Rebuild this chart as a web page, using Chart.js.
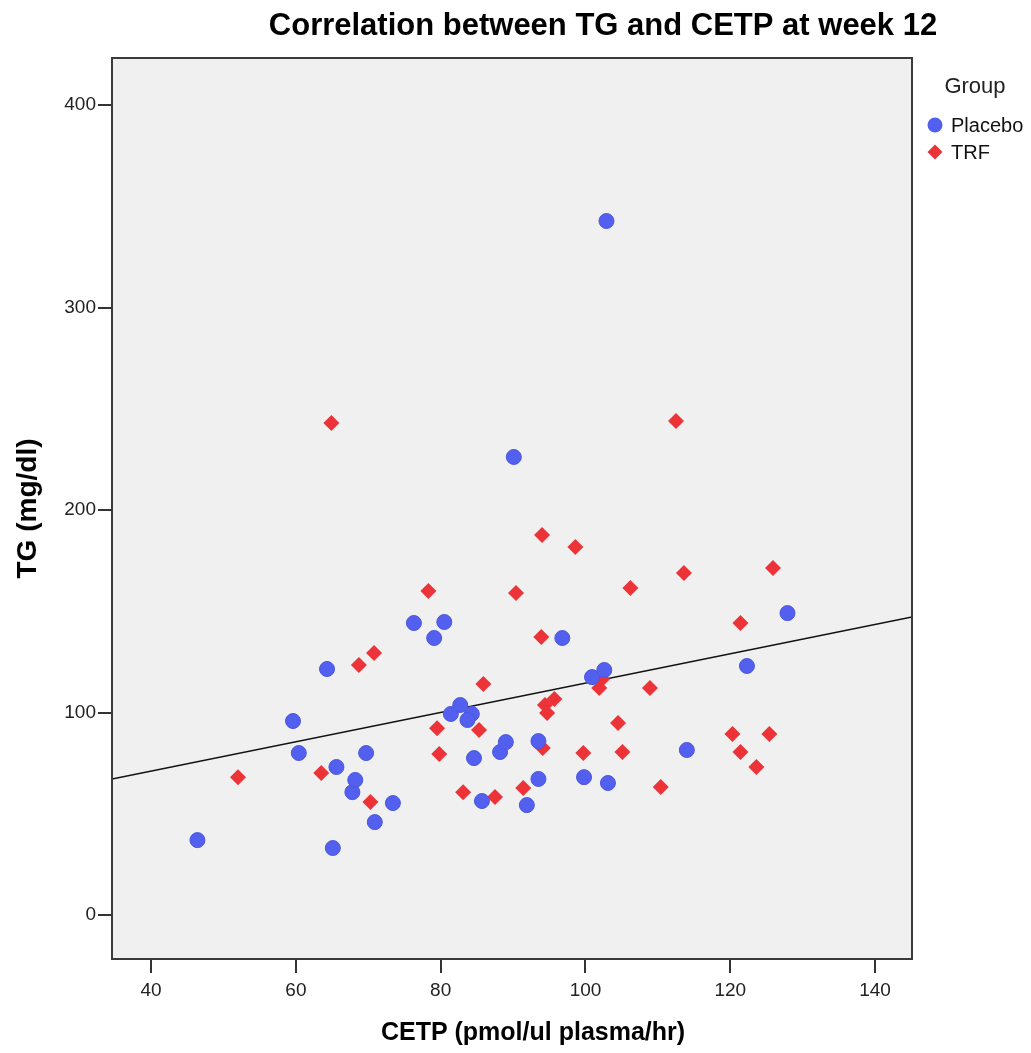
<!DOCTYPE html>
<html>
<head>
<meta charset="utf-8">
<title>Correlation between TG and CETP at week 12</title>
<script src="https://cdn.jsdelivr.net/npm/chart.js"></script>
<style>
    html, body { margin: 0; padding: 0; background: #fff; }
    #wrap { width: 1031px; height: 1053px; position: relative; }
</style>
</head>
<body>
<div id="wrap"><canvas id="scatter-chart"></canvas></div>
<script>
// Values
const chartTitle = 'Correlation between TG and CETP at week 12';
const xTitle = 'CETP (pmol/ul plasma/hr)';
const yTitle = 'TG (mg/dl)';
const legendTitle = 'Group';
const groupNames = ['Placebo', 'TRF'];

const xTicks = [40, 60, 80, 100, 120, 140];
const yTicks = [0, 100, 200, 300, 400];
const xRange = [34.6, 145.1];
const yRange = [-21.7, 423.2];

const placeboCETP = [46.4, 59.6, 60.4, 64.3, 65.1, 65.6, 67.8, 68.2, 69.7, 70.9, 73.4, 76.3,
    79.1, 80.5, 81.4, 82.7, 84.3, 83.7, 84.6, 85.7, 88.2, 89.0, 90.1, 91.9, 93.5, 93.5,
    96.8, 99.8, 100.9, 102.6, 102.9, 103.1, 114.0, 122.3, 127.9];
const placeboTG = [37.0, 95.8, 80.0, 121.5, 33.1, 73.1, 60.7, 66.7, 80.0, 45.9, 55.3, 144.2,
    136.8, 144.7, 99.3, 103.7, 99.3, 96.3, 77.5, 56.3, 80.5, 85.4, 226.2, 54.3, 85.9, 67.2,
    136.8, 68.1, 117.5, 121.0, 342.7, 65.2, 81.5, 123.0, 149.1];

const trfCETP = [52.0, 63.5, 64.9, 68.7, 70.3, 70.8, 78.3, 79.5, 79.8, 83.1, 85.3, 85.9,
    87.5, 90.4, 91.4, 94.0, 93.9, 94.1, 94.4, 94.7, 95.7, 98.6, 99.7, 102.3, 101.9, 104.5,
    105.1, 106.2, 108.9, 110.4, 112.5, 113.6, 120.3, 121.4, 121.4, 123.6, 125.4, 125.9];
const trfTG = [68.1, 70.1, 243.0, 123.5, 55.8, 129.4, 160.0, 92.3, 79.5, 60.7, 91.4, 114.1,
    58.3, 159.0, 62.7, 187.7, 137.3, 82.5, 103.7, 99.8, 106.7, 181.7, 80.0, 116.5, 112.1, 94.8,
    80.5, 161.5, 112.1, 63.2, 244.0, 168.9, 89.4, 144.2, 80.5, 73.1, 89.4, 171.4];

// Fit line for the whole sample, as drawn in the picture
const fitIntercept = 42.1;
const fitSlope = 0.724;

const BLUE = '#5360ef';
const RED = '#eb3338';
const FONT = "'Liberation Sans', Arial, sans-serif";

const toPoints = (xs, ys) => xs.map((x, i) => ({ x: x, y: ys[i] }));
const fitPoints = xRange.map(x => ({ x: x, y: fitIntercept + fitSlope * x }));

// Grey plot background, box frame, titles and legend
const framePlugin = {
    id: 'frame',
    beforeDatasetsDraw(chart) {
        const { ctx, chartArea: a } = chart;
        ctx.save();
        ctx.fillStyle = '#f0f0f0';
        ctx.fillRect(a.left, a.top, a.right - a.left, a.bottom - a.top);
        ctx.restore();
    },
    afterDraw(chart) {
        const { ctx, chartArea: a } = chart;
        ctx.save();
        ctx.strokeStyle = '#3a3a3a';
        ctx.lineWidth = 2;
        ctx.strokeRect(a.left, a.top, a.right - a.left, a.bottom - a.top);

        // chart title
        ctx.fillStyle = '#000';
        ctx.font = `bold 31px ${FONT}`;
        ctx.textAlign = 'center';
        ctx.textBaseline = 'middle';
        ctx.fillText(chartTitle, 603, 26);

        // x axis title (sits a bit right of the plot centre in the original)
        ctx.font = `bold 25px ${FONT}`;
        ctx.fillText(xTitle, 533, 1033);

        // legend
        ctx.fillStyle = '#222';
        ctx.font = `22px ${FONT}`;
        ctx.fillText(legendTitle, 975, 87);

        ctx.textAlign = 'left';
        ctx.font = `20px ${FONT}`;
        chart.data.datasets.slice(0, 2).forEach((ds, i) => {
            const cx = 935, cy = 125 + i * 27;
            ctx.fillStyle = ds.backgroundColor;
            ctx.beginPath();
            if (ds.pointStyle === 'circle') {
                ctx.arc(cx, cy, 7.5, 0, Math.PI * 2);
            } else {
                ctx.moveTo(cx - 7.5, cy);
                ctx.lineTo(cx, cy - 7.5);
                ctx.lineTo(cx + 7.5, cy);
                ctx.lineTo(cx, cy + 7.5);
                ctx.closePath();
            }
            ctx.fill();
            ctx.fillStyle = '#111';
            ctx.fillText(ds.label, 951, cy + 1);
        });
        ctx.restore();
    }
};

const ctx = document.getElementById('scatter-chart').getContext('2d');
new Chart(ctx, {
    type: 'scatter',
    data: {
        datasets: [{
            label: groupNames[0],
            data: toPoints(placeboCETP, placeboTG),
            pointStyle: 'circle',
            backgroundColor: BLUE,
            borderColor: '#4b57dc',
            borderWidth: 1,
            pointRadius: 7.5
        }, {
            label: groupNames[1],
            data: toPoints(trfCETP, trfTG),
            pointStyle: 'rectRot',
            backgroundColor: RED,
            borderColor: RED,
            borderWidth: 0,
            pointRadius: 8
        }, {
            type: 'line',
            label: 'Fit',
            data: fitPoints,
            borderColor: '#111',
            borderWidth: 1.5,
            pointRadius: 0,
            fill: false
        }]
    },
    options: {
        responsive: true,
        maintainAspectRatio: false,
        animation: false,
        layout: { padding: { top: 58, right: 119, left: 0, bottom: 0 } },
        plugins: {
            legend: { display: false },
            tooltip: { enabled: false }
        },
        scales: {
            x: {
                type: 'linear',
                min: xRange[0],
                max: xRange[1],
                afterBuildTicks: s => { s.ticks = xTicks.map(v => ({ value: v })); },
                afterFit: s => { s.height = 94; },
                border: { display: false },
                grid: { drawOnChartArea: false, drawTicks: true, tickLength: 14, color: '#333', lineWidth: 2 },
                ticks: { color: '#222', font: { family: FONT, size: 19 }, padding: 6 },
                title: { display: false }
            },
            y: {
                type: 'linear',
                min: yRange[0],
                max: yRange[1],
                afterBuildTicks: s => { s.ticks = yTicks.map(v => ({ value: v })); },
                afterFit: s => { s.width = 112; },
                border: { display: false },
                grid: { drawOnChartArea: false, drawTicks: true, tickLength: 14, color: '#333', lineWidth: 2 },
                ticks: { color: '#222', font: { family: FONT, size: 19 }, padding: 2 },
                title: {
                    display: true, text: yTitle, color: '#000',
                    font: { family: FONT, size: 28, weight: 'bold' },
                    padding: { top: 11, bottom: 0 }
                }
            }
        }
    },
    plugins: [framePlugin]
});
</script>
</body>
</html>
